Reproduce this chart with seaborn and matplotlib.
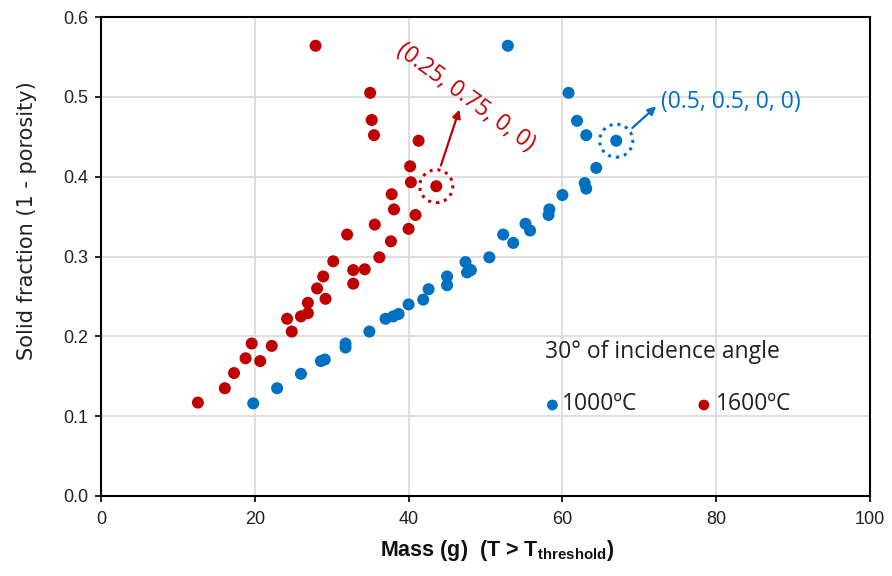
import matplotlib
matplotlib.use("Agg")
import matplotlib.pyplot as plt
from matplotlib import font_manager
import seaborn as sns
import pandas as pd
from matplotlib.patches import Ellipse

# ---- data ----
mass_1000 = [52.9, 60.8, 61.9, 63.1, 67.0, 64.4, 62.9, 63.1, 60.0, 58.3, 58.2, 55.2,
             55.8, 52.3, 53.6, 50.5, 47.4, 47.6, 48.1, 45.0, 45.0, 42.6, 41.9, 40.0,
             38.7, 38.0, 37.0, 34.9, 31.8, 31.8, 29.1, 28.6, 26.0, 22.9, 19.8]
solid_1000 = [0.564, 0.505, 0.470, 0.452, 0.445, 0.411, 0.392, 0.385, 0.377, 0.359, 0.352, 0.341,
              0.3325, 0.3275, 0.317, 0.299, 0.293, 0.280, 0.283, 0.275, 0.264, 0.259, 0.246, 0.240,
              0.228, 0.225, 0.222, 0.206, 0.191, 0.186, 0.171, 0.169, 0.153, 0.135, 0.116]
mass_1600 = [27.9, 35.0, 35.2, 35.5, 41.3, 40.2, 40.3, 43.6, 37.8, 38.1, 40.9, 35.6,
             32.0, 40.0, 37.7, 36.2, 30.2, 32.8, 34.3, 32.8, 28.9, 28.1, 29.2, 26.9,
             26.9, 26.0, 24.2, 24.8, 19.6, 22.2, 18.8, 20.7, 17.3, 16.1, 12.6]
solid_1600 = [0.564, 0.505, 0.471, 0.452, 0.445, 0.413, 0.393, 0.388, 0.378, 0.359, 0.352, 0.340,
              0.3275, 0.3346, 0.319, 0.299, 0.294, 0.283, 0.284, 0.266, 0.275, 0.260, 0.247, 0.242,
              0.229, 0.225, 0.222, 0.206, 0.191, 0.188, 0.1725, 0.169, 0.154, 0.135, 0.117]
series_labels = ["1000ºC", "1600ºC"]
colors = ["#0070C0", "#C00000"]
x_ticks = [0, 20, 40, 60, 80, 100]
y_ticks = [0.0, 0.1, 0.2, 0.3, 0.4, 0.5, 0.6]
red_highlight = (43.6, 0.388)
blue_highlight = (67.0, 0.445)

df = pd.DataFrame({
    "mass": mass_1000 + mass_1600,
    "solid": solid_1000 + solid_1600,
    "series": [series_labels[0]] * len(mass_1000) + [series_labels[1]] * len(mass_1600),
})

sns.set_theme(style="whitegrid")
plt.rcParams["font.family"] = ["Liberation Sans", "DejaVu Sans"]

installed = {f.name for f in font_manager.fontManager.ttflist}
narrow = "Liberation Sans Narrow" in installed
label_family = ["Liberation Sans Narrow", "DejaVu Sans"] if narrow else ["Liberation Sans", "DejaVu Sans"]

fig = plt.figure(figsize=(8.92, 5.76), dpi=100)
ax = fig.add_axes([101 / 892, 1 - 496 / 576, (870 - 101) / 892, (496 - 17) / 576])

sns.scatterplot(data=df, x="mass", y="solid", hue="series", palette=colors,
                hue_order=series_labels, s=75, edgecolor="none", legend=False, ax=ax,
                zorder=3)

ax.set_xlim(0, 100)
ax.set_ylim(0, 0.6)
ax.set_xticks(x_ticks)
ax.set_yticks(y_ticks)
ax.set_yticklabels([f"{v:.1f}" for v in y_ticks])
ax.grid(True, color="#d9d9d9", linewidth=1.2)
ax.set_facecolor("white")
for sp in ax.spines.values():
    sp.set_visible(True)
    sp.set_color("black")
    sp.set_linewidth(1.5)
ax.tick_params(axis="both", which="major", direction="out", length=4, width=1.2,
               color="black", labelsize=14 if narrow else 13, labelcolor="#222222",
               left=True, bottom=True)
ax.tick_params(axis="x", pad=7)
ax.tick_params(axis="y", pad=5)
for lab in ax.get_xticklabels() + ax.get_yticklabels():
    lab.set_family(label_family)

ax.set_ylabel("Solid fraction (1 - porosity)", fontsize=15,
              family=["DejaVu Sans"], color="#222222")
ax.yaxis.set_label_coords(-0.083, 0.575)
ax.set_xlabel(r"Mass (g)  (T > T$_{\mathregular{threshold}}$)",
              fontsize=18 if narrow else 15.5, family=label_family,
              fontweight="bold", color="#111111")
ax.xaxis.set_label_coords(0.515, -0.088)

# highlights
for (cx, cy), col in [(red_highlight, colors[1]), (blue_highlight, colors[0])]:
    ax.add_patch(Ellipse((cx, cy), width=4.3, height=0.0413, fill=False,
                         edgecolor=col, linestyle=(0, (1, 1.6)), linewidth=2.2, zorder=4))

ax.annotate("", xy=(46.6, 0.484), xytext=(44.2, 0.414),
            arrowprops=dict(arrowstyle="-|>", color=colors[1], lw=1.6,
                            mutation_scale=12, shrinkA=0, shrinkB=0))
ax.annotate("", xy=(72.2, 0.488), xytext=(69.1, 0.461),
            arrowprops=dict(arrowstyle="-|>", color=colors[0], lw=1.6,
                            mutation_scale=12, shrinkA=0, shrinkB=0))

ax.text(47.4, 0.499, "(0.25, 0.75, 0, 0)", color=colors[1], fontsize=16.5,
        family=["Open Sans", "DejaVu Sans"], rotation=-36.5, rotation_mode="anchor",
        ha="center", va="center", zorder=5)
ax.text(72.8, 0.494, "(0.5, 0.5, 0, 0)", color=colors[0], fontsize=16.5,
        family=["Open Sans", "DejaVu Sans"], ha="left", va="center", zorder=5)

# legend-like text
ax.text(57.7, 0.181, "30° of incidence angle", color="#222222", fontsize=16.5,
        family=["Open Sans", "DejaVu Sans"], ha="left", va="center", zorder=5)
ax.scatter([58.7], [0.114], s=60, color=colors[0], edgecolor="none", zorder=5)
ax.text(60.0, 0.115, series_labels[0], color="#222222", fontsize=16.5,
        family=["Open Sans", "DejaVu Sans"], ha="left", va="center", zorder=5)
ax.scatter([78.4], [0.114], s=60, color=colors[1], edgecolor="none", zorder=5)
ax.text(79.9, 0.115, series_labels[1], color="#222222", fontsize=16.5,
        family=["Open Sans", "DejaVu Sans"], ha="left", va="center", zorder=5)

fig.savefig("out.png", dpi=100, facecolor="white")
